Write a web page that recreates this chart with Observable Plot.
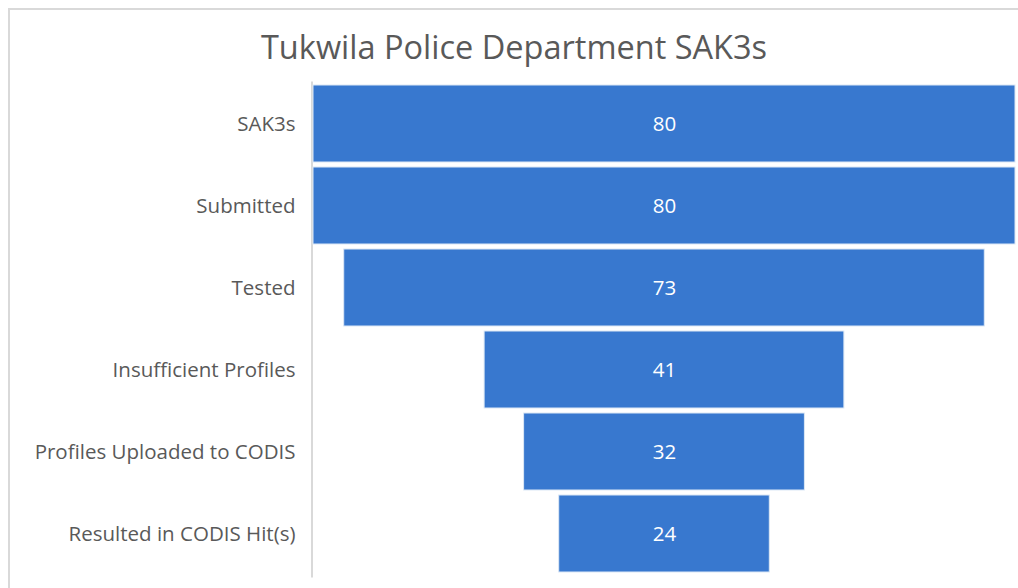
<!DOCTYPE html>
<html>
<head>
<meta charset="utf-8">
<script src="https://cdn.jsdelivr.net/npm/d3@7"></script>
<script src="https://cdn.jsdelivr.net/npm/@observablehq/plot@0.6"></script>
<style>
  html, body { margin: 0; padding: 0; background: #fff; }
  body { width: 1018px; height: 588px; overflow: hidden; position: relative; font-family: "Open Sans", sans-serif; }
  #frame { position: absolute; left: 8px; top: 8px; width: 1010px; height: 580px;
           border-left: 2px solid #d9d9d9; border-top: 2px solid #d9d9d9; box-sizing: border-box; }
  #title { height: 60px; box-sizing: border-box; padding-top: 14px; line-height: 46px;
           text-align: center; font-size: 32.5px; color: #595959; white-space: nowrap; }
</style>
</head>
<body>
<div id="frame">
  <div id="title">Tukwila Police Department SAK3s</div>
  <div id="chart"></div>
</div>
<script>
const stages = ["SAK3s", "Submitted", "Tested", "Insufficient Profiles", "Profiles Uploaded to CODIS", "Resulted in CODIS Hit(s)"];
const counts = [80, 80, 73, 41, 32, 24];

const data = stages.map((s, i) => ({stage: s, value: counts[i]}));
const maxV = d3.max(counts);

const chart = Plot.plot({
  width: 1008,
  height: 518,
  marginLeft: 303,
  marginRight: 3,
  marginTop: 8.6,
  marginBottom: 9.6,
  style: {fontFamily: "Open Sans, sans-serif", fontSize: "20.5px", color: "#595959", background: "transparent"},
  x: {domain: [-maxV / 2, maxV / 2], axis: null},
  y: {domain: stages, padding: 0.066, label: null, axis: null},
  marks: [
    Plot.ruleX([-maxV / 2], {stroke: "#d9d9d9", strokeWidth: 2, dx: -1.5, insetTop: 3, insetBottom: 1}),
    Plot.barX(data, {y: "stage", x1: d => -d.value / 2, x2: d => d.value / 2, fill: "#3878cf", stroke: "#dce8f6", strokeWidth: 1}),
    Plot.text(data, {y: "stage", x: 0, text: d => String(d.value), fill: "white", fontSize: 20.5}),
    Plot.axisY({tickSize: 0, tickPadding: 18, fill: "#595959", fontSize: 20.5, label: null})
  ]
});
document.getElementById("chart").appendChild(chart);
</script>
</body>
</html>
